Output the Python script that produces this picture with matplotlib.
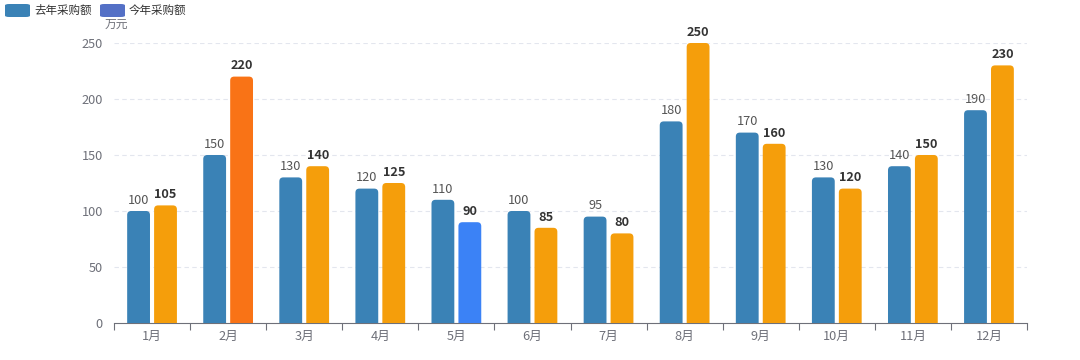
import matplotlib
matplotlib.use("Agg")
import matplotlib.pyplot as plt
from matplotlib.patches import FancyBboxPatch
import numpy as np

plt.rcParams["font.family"] = ["Noto Sans CJK SC", "DejaVu Sans"]

# data
months = ["1月", "2月", "3月", "4月", "5月", "6月", "7月", "8月", "9月", "10月", "11月", "12月"]
last_year = [100, 150, 130, 120, 110, 100, 95, 180, 170, 130, 140, 190]
this_year = [105, 220, 140, 125, 90, 85, 80, 250, 160, 120, 150, 230]
this_year_colors = ["#f59e0b", "#f97316", "#f59e0b", "#f59e0b", "#3b82f6", "#f59e0b",
                    "#f59e0b", "#f59e0b", "#f59e0b", "#f59e0b", "#f59e0b", "#f59e0b"]
yticks = [0, 50, 100, 150, 200, 250]

blue = "#3a82b6"
axis_grey = "#6e7079"
fs = 9.2

fig = plt.figure(figsize=(10.8, 3.6), dpi=100)
ax = fig.add_axes([114 / 1080, 37 / 360, 913 / 1080, 280 / 360])

x = np.arange(len(months))
w = 0.30
gap = 0.027
ax.set_xlim(-0.5, len(months) - 0.5)
ax.set_ylim(0, 250)

# aspect so corners look round in pixels
px_x = 1 / (913 / 12)
px_y = 250 / 280
aspect = px_y / px_x
r = 4 * px_x

def rounded_bar(xc, h, color):
    p = FancyBboxPatch((xc - w / 2, -10), w, h + 10,
                       boxstyle=f"round,pad=0,rounding_size={r}",
                       mutation_aspect=aspect, facecolor=color, edgecolor="none", zorder=3)
    ax.add_patch(p)

for i in range(len(months)):
    xl = x[i] - w / 2 - gap
    xr = x[i] + w / 2 + gap
    rounded_bar(xl, last_year[i], blue)
    rounded_bar(xr, this_year[i], this_year_colors[i])
    ax.annotate(str(last_year[i]), (xl, last_year[i]), xytext=(0, 3), textcoords="offset points",
                ha="center", va="bottom", fontsize=fs, color="#555555")
    ax.annotate(str(this_year[i]), (xr, this_year[i]), xytext=(0, 3), textcoords="offset points",
                ha="center", va="bottom", fontsize=fs, color="#333333", fontweight="bold")

# grid
for yv in yticks[1:]:
    ax.axhline(yv, color="#e3e6ee", lw=0.8, ls=(0, (4, 3)), zorder=1)

ax.set_yticks(yticks)
ax.tick_params(axis="y", length=0, labelsize=fs, labelcolor=axis_grey, pad=8)
ax.set_xticks(x)
ax.set_xticklabels(months)
ax.tick_params(axis="x", which="major", length=0, labelsize=fs, labelcolor=axis_grey, pad=5)
ax.set_xticks(np.arange(-0.5, len(months), 1), minor=True)
ax.tick_params(axis="x", which="minor", length=5, color=axis_grey, width=0.8)

for s in ["top", "right", "left"]:
    ax.spines[s].set_visible(False)
ax.spines["bottom"].set_color(axis_grey)
ax.spines["bottom"].set_linewidth(0.8)

fig.text(116 / 1080, 1 - 24 / 360, "万元", ha="center", va="center", fontsize=8.5, color=axis_grey)

# legend
legend_items = [("去年采购额", blue, 5), ("今年采购额", "#5470c6", 100)]
for label, col, lx in legend_items:
    fig.patches.append(FancyBboxPatch((lx / 1080, 1 - 17 / 360), 25 / 1080, 13 / 360,
                                      boxstyle="round,pad=0,rounding_size=0.004",
                                      transform=fig.transFigure, facecolor=col, edgecolor="none"))
    fig.text((lx + 29) / 1080, 1 - 10 / 360, label, ha="left", va="center", fontsize=8.3, color="#333333")

fig.savefig("out.png", dpi=100)
